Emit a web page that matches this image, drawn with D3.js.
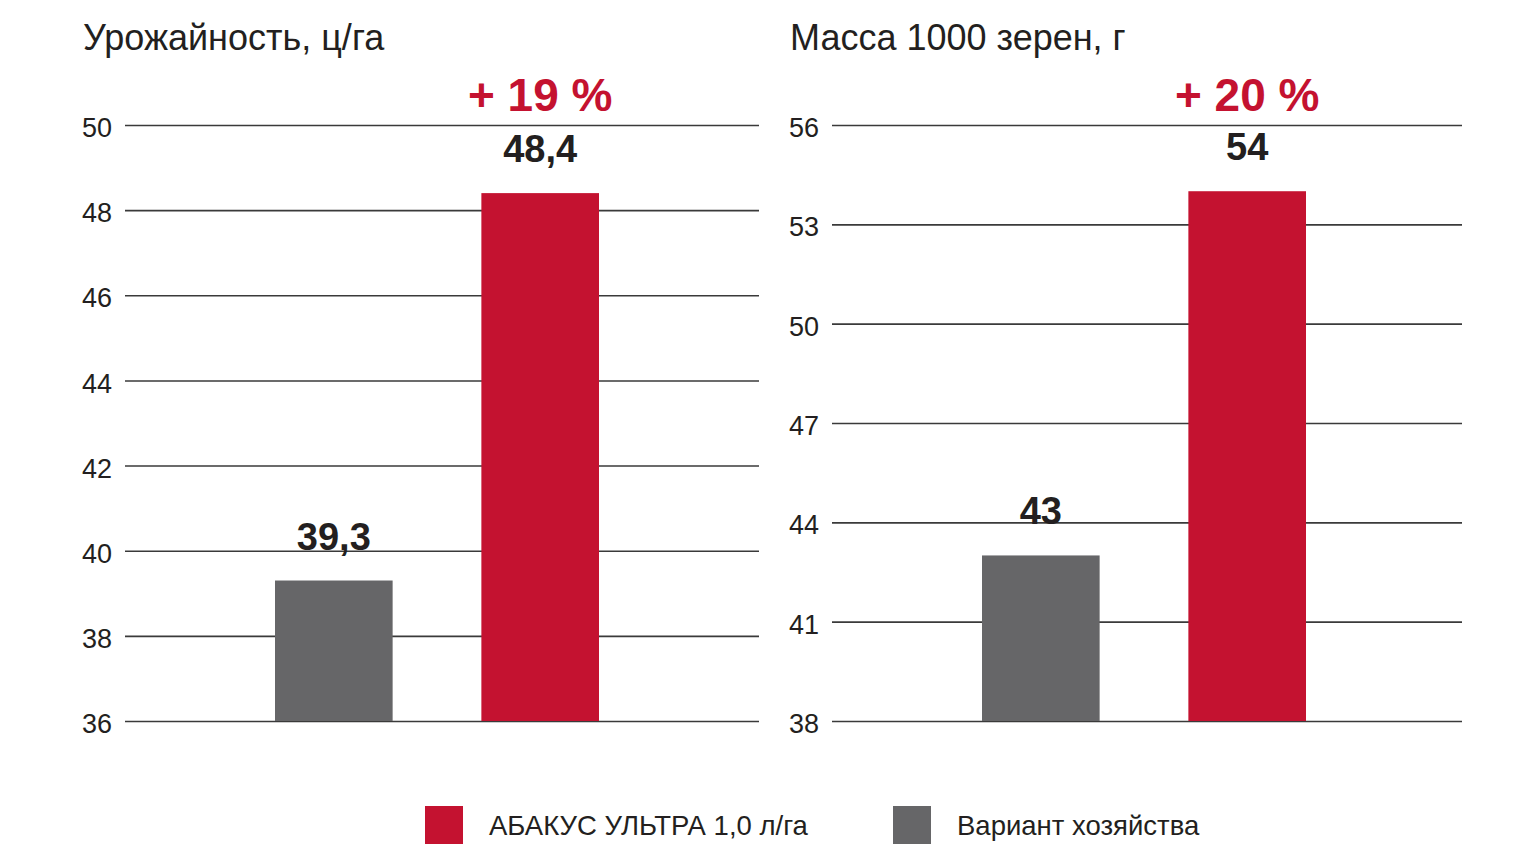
<!DOCTYPE html>
<html>
<head>
<meta charset="utf-8">
<script src="https://cdn.jsdelivr.net/npm/d3@7"></script>
<style>
  body { margin: 0; background: #fff; }
  svg text { font-family: "Liberation Sans", Arial, sans-serif; }
</style>
</head>
<body>
<svg id="chart"></svg>
<script>
// series: [Вариант хозяйства, АБАКУС УЛЬТРА]
const seriesNames = ['Вариант хозяйства', 'АБАКУС УЛЬТРА 1,0 л/га'];
const legendOrder = ['АБАКУС УЛЬТРА 1,0 л/га', 'Вариант хозяйства'];
const panelTitles = ['Урожайность, ц/га', 'Масса 1000 зерен, г'];
const yieldValues = [39.3, 48.4];
const yieldLabels = ['39,3', '48,4'];
const massValues = [43, 54];
const massLabels = ['43', '54'];
const gains = ['+ 19 %', '+ 20 %'];
const yieldTicks = [36, 38, 40, 42, 44, 46, 48, 50];
const massTicks = [38, 41, 44, 47, 50, 53, 56];

const colors = {
	'Вариант хозяйства': '#666668',
	'АБАКУС УЛЬТРА 1,0 л/га': '#c41230',
};

const svg = d3.select('#chart').attr('width', 1540).attr('height', 866);

const panels = [
	{ title: panelTitles[0], values: yieldValues, labels: yieldLabels, ticks: yieldTicks, gain: gains[0], x0: 125, x1: 759, titleX: 83 },
	{ title: panelTitles[1], values: massValues, labels: massLabels, ticks: massTicks, gain: gains[1], x0: 832, x1: 1462, titleX: 790 },
];

const plotTop = 125, plotBottom = 721;

panels.forEach((p) => {
	const g = svg.append('g');

	const y = d3.scaleLinear()
		.domain(d3.extent(p.ticks))
		.range([plotBottom, plotTop]);

	// two bars of ~117px with ~89px gap, starting 150px into the plot
	const x = d3.scaleBand()
		.domain(seriesNames)
		.range([p.x0 + 150, p.x0 + 474])
		.paddingInner(0.43)
		.paddingOuter(0);

	g.append('text')
		.attr('x', p.titleX)
		.attr('y', 50)
		.style('font-size', '36px')
		.style('fill', '#231f20')
		.text(p.title);

	// gridlines + tick labels
	const axis = d3.axisLeft(y)
		.tickValues(p.ticks)
		.tickSize(-(p.x1 - p.x0))
		.tickPadding(13)
		.tickFormat(d3.format('d'));

	const ax = g.append('g')
		.attr('transform', `translate(${p.x0},0)`)
		.call(axis);
	ax.select('.domain').remove();
	ax.selectAll('.tick line').attr('stroke', '#3a3a3a').attr('stroke-width', 1.6);
	ax.selectAll('.tick text')
		.style('font-size', '27px')
		.style('fill', '#231f20')
		.attr('dy', '0.43em');

	const data = seriesNames.map((s, i) => ({ s, v: p.values[i], label: p.labels[i] }));

	g.selectAll('.bar')
		.data(data)
		.join('rect')
		.attr('class', 'bar')
		.attr('x', (d) => x(d.s))
		.attr('width', x.bandwidth())
		.attr('y', (d) => y(d.v))
		.attr('height', (d) => plotBottom - y(d.v))
		.attr('fill', (d) => colors[d.s]);

	g.selectAll('.val')
		.data(data)
		.join('text')
		.attr('class', 'val')
		.attr('x', (d) => x(d.s) + x.bandwidth() / 2)
		.attr('y', (d) => y(d.v) - 31)
		.attr('text-anchor', 'middle')
		.style('font-size', '38px')
		.style('font-weight', 'bold')
		.style('fill', '#231f20')
		.text((d) => d.label);

	g.append('text')
		.attr('x', x(seriesNames[1]) + x.bandwidth() / 2)
		.attr('y', 111)
		.attr('text-anchor', 'middle')
		.style('font-size', '46px')
		.style('font-weight', 'bold')
		.style('fill', colors[seriesNames[1]])
		.text(p.gain);
});

// legend
const legend = svg.append('g').attr('transform', 'translate(425,806)');
const legendX = d3.scaleOrdinal().domain(legendOrder).range([0, 468]);

const items = legend.selectAll('.legend-item')
	.data(legendOrder)
	.join('g')
	.attr('class', 'legend-item')
	.attr('transform', (d) => `translate(${legendX(d)},0)`);

items.append('rect')
	.attr('width', 38)
	.attr('height', 38)
	.attr('fill', (d) => colors[d]);

items.append('text')
	.attr('x', 64)
	.attr('y', 29)
	.style('font-size', '27.5px')
	.style('fill', '#231f20')
	.text((d) => d);
</script>
</body>
</html>
